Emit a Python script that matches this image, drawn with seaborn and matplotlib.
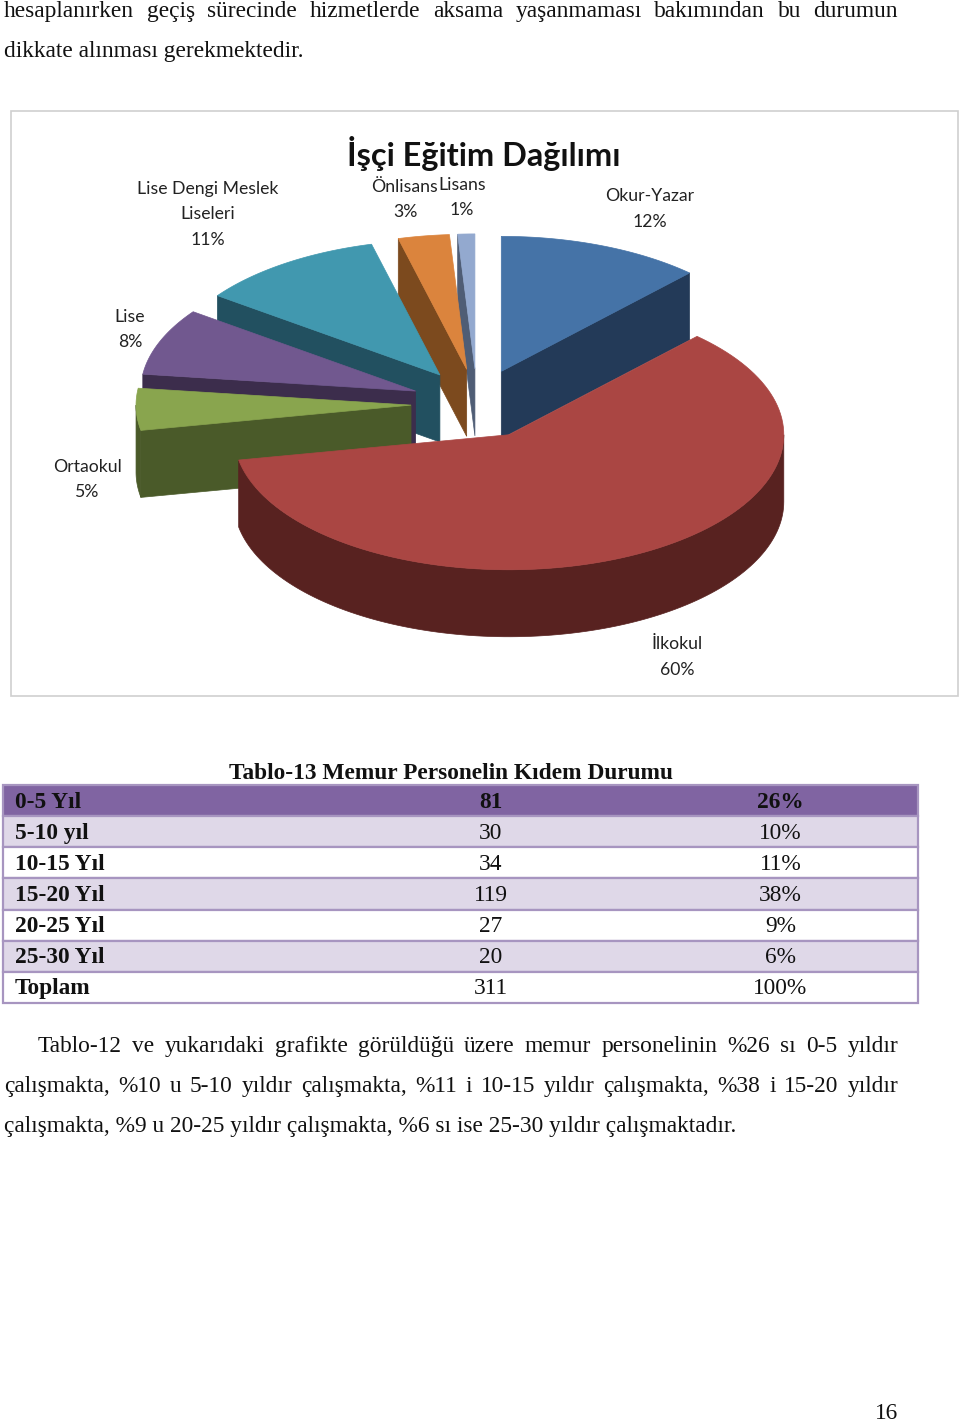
import numpy as np
import matplotlib
matplotlib.use("Agg")
import matplotlib.pyplot as plt
import seaborn as sns

# pie data
pie_names = ["Okur-Yazar", "İlkokul", "Ortaokul", "Lise", "Lise Dengi Meslek Liseleri", "Önlisans", "Lisans"]
pie_shares = [12, 60, 5, 8, 11, 3, 1]
top_colors = ["#4573A7", "#AA4643", "#89A54E", "#71588F", "#4198AF", "#DB843D", "#93A9CF"]
side_colors = ["#233A58", "#582220", "#4A5A29", "#3C2D4C", "#225060", "#7C4A1E", "#4F5D75"]

# table data
table_title = "Tablo-13 Memur Personelin Kıdem Durumu"
table_years = ["0-5 Yıl", "5-10 yıl", "10-15 Yıl", "15-20 Yıl", "20-25 Yıl", "25-30 Yıl", "Toplam"]
table_counts = [81, 30, 34, 119, 27, 20, 311]
table_percent = [26, 10, 11, 38, 9, 6, 100]

sns.set_style("white")
top_pal = sns.color_palette(top_colors)
side_pal = sns.color_palette(side_colors)

W, H = 960, 1422
fig = plt.figure(figsize=(W / 100, H / 100), dpi=100)
ax = fig.add_axes([0, 0, 1, 1])
ax.set_xlim(0, W)
ax.set_ylim(H, 0)
ax.axis("off")
rend = fig.canvas.get_renderer()

SERIF = "Liberation Serif"
SANS = "Lato"
BODY = 16.85
NUDGE = 1.5  # serif text sits a bit high with va=center


def justified(line, y, x0, x1, size=BODY):
    # words spread out between x0 and x1 like a word processor does
    words = line.split()
    items = [ax.text(x0, y + NUDGE, w, family=SERIF, fontsize=size, va="center", color="#111111") for w in words]
    widths = [t.get_window_extent(rend).width for t in items]
    gap = (x1 - x0 - sum(widths)) / (len(words) - 1)
    x = x0
    for t, w in zip(items, widths):
        t.set_x(x)
        x += w + gap


def plain(line, y, x0, size=BODY):
    ax.text(x0, y + NUDGE, line, family=SERIF, fontsize=size, va="center", color="#111111")


justified("hesaplanırken geçiş sürecinde hizmetlerde aksama yaşanmaması bakımından bu durumun", 10, 4, 898)
plain("dikkate alınması gerekmektedir.", 50, 4)

# chart frame
ax.fill([11, 958, 958, 11], [111, 111, 696, 696], facecolor="white", edgecolor="#CFCFCF", lw=1.2)

# exploded 3d pie
cx, cy = 477, 404
rx, ry = 275, 135
depth = 67
explode_x, explode_y = 0.24, 0.26

edges = np.cumsum([0] + pie_shares) * 3.6
wedges = []
for i in range(len(pie_shares)):
    a0, a1 = edges[i], edges[i + 1]
    mid = np.radians((a0 + a1) / 2)
    wx = cx + explode_x * rx * np.sin(mid)
    wy = cy - explode_y * ry * np.cos(mid)
    wedges.append((a0, a1, wx, wy))


def rim_xy(wx, wy, deg):
    r = np.radians(deg)
    return wx + rx * np.sin(r), wy - ry * np.cos(r)


# back to front, like the picture overlaps
for i in [6, 5, 4, 3, 2, 0, 1]:
    a0, a1, wx, wy = wedges[i]
    top = top_pal[i]
    side = side_pal[i]

    # cut faces, only the ones turned to the viewer
    for deg in (a0, a1):
        face_left = deg == a0 and 180 < deg < 360
        face_right = deg == a1 and 0 < deg < 180
        if face_left or face_right:
            ex, ey = rim_xy(wx, wy, deg)
            ax.fill([wx, ex, ex, wx], [wy, ey, ey + depth, wy + depth], color=side, lw=0.5)

    # outer wall
    lo, hi = max(a0, 90), min(a1, 270)
    if lo < hi:
        arc = np.linspace(lo, hi, 120)
        ax_, ay_ = rim_xy(wx, wy, arc)
        ax.fill(np.r_[ax_, ax_[::-1]], np.r_[ay_, ay_[::-1] + depth], color=side, lw=0.5)

    # top
    arc = np.linspace(a0, a1, 120)
    tx, ty = rim_xy(wx, wy, arc)
    ax.fill(np.r_[wx, tx], np.r_[wy, ty], color=top, lw=0.5)

ax.text(483.5, 153.5, "İşçi Eğitim Dağılımı", family=SANS, fontsize=23.4, fontweight="bold",
        ha="center", va="center", color="#111111")

label_spots = [
    (650, [195, 221]),
    (677, [643, 669]),
    (87, [466, 491]),
    (130, [316, 341]),
    (208, [188, 213, 239]),
    (405, [186, 211]),
    (462, [184, 209]),
]
label_lines = [
    ["Okur-Yazar"],
    ["İlkokul"],
    ["Ortaokul"],
    ["Lise"],
    ["Lise Dengi Meslek", "Liseleri"],
    ["Önlisans"],
    ["Lisans"],
]
for i, (x, ys) in enumerate(label_spots):
    lines = label_lines[i] + [f"{pie_shares[i]}%"]
    for y, s in zip(ys, lines):
        ax.text(x, y + 1, s, family=SANS, fontsize=12.7, ha="center", va="center", color="#222222")

# table
ax.text(451, 772 + NUDGE, table_title, family=SERIF, fontsize=BODY, fontweight="bold", ha="center", va="center", color="#111111")
tx0, tx1 = 3, 918
ty0, row_h = 785, 31.15
head_col = "#8064A2"
band_col = "#DFD8E8"
line_col = "#A795C0"
for r, year in enumerate(table_years):
    y0 = ty0 + r * row_h
    if r == 0:
        fc = head_col
    elif r % 2 == 1:
        fc = band_col
    else:
        fc = "white"
    ax.fill([tx0, tx1, tx1, tx0], [y0, y0, y0 + row_h, y0 + row_h], facecolor=fc, edgecolor=line_col, lw=1.6)
    ym = y0 + row_h / 2 + NUDGE
    w = "bold" if r == 0 else "normal"
    ax.text(15, ym, year, family=SERIF, fontsize=BODY, fontweight="bold", va="center", color="#111111")
    ax.text(490.5, ym, str(table_counts[r]), family=SERIF, fontsize=BODY, fontweight=w, ha="center", va="center", color="#111111")
    ax.text(780.5, ym, f"{table_percent[r]}%", family=SERIF, fontsize=BODY, fontweight=w, ha="center", va="center", color="#111111")

justified("Tablo-12 ve yukarıdaki grafikte görüldüğü üzere memur personelinin %26 sı 0-5 yıldır", 1045, 38, 898)
justified("çalışmakta, %10 u 5-10 yıldır çalışmakta, %11 i 10-15 yıldır çalışmakta, %38 i 15-20 yıldır", 1085, 4, 898)
plain("çalışmakta, %9 u 20-25 yıldır çalışmakta, %6 sı ise 25-30 yıldır çalışmaktadır.", 1125, 4)

ax.text(887, 1412 + NUDGE, "16", family=SERIF, fontsize=BODY, ha="center", va="center", color="#111111")

fig.savefig("out.png", dpi=100, facecolor="white")
